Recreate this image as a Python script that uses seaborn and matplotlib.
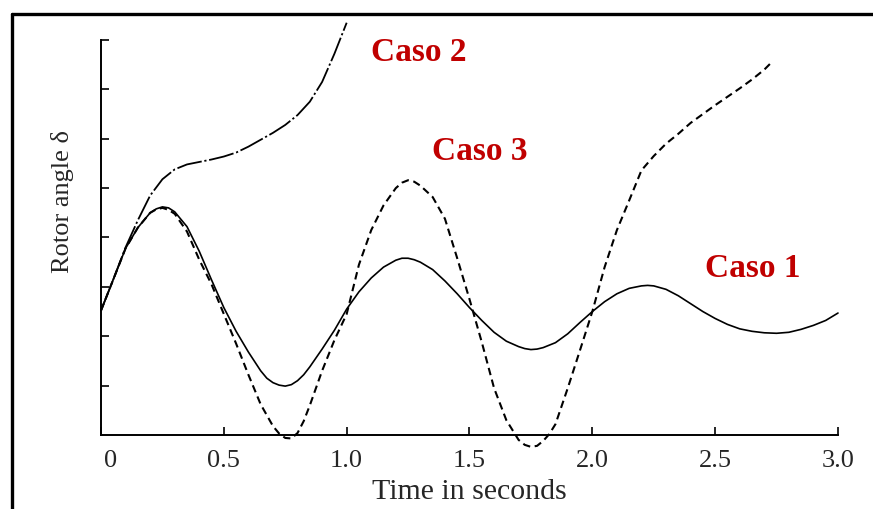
import matplotlib
matplotlib.use("Agg")
import matplotlib.pyplot as plt
import matplotlib.transforms as mtransforms
from matplotlib.lines import Line2D
import pandas as pd
import seaborn as sns

# time axis (s)
t1 = [0.00, 0.05, 0.10, 0.15, 0.20, 0.225, 0.25, 0.275, 0.30, 0.35, 0.40, 0.45, 0.50, 0.55, 0.60,
      0.65, 0.675, 0.70, 0.725, 0.75, 0.775, 0.80, 0.825, 0.85, 0.90, 0.95, 1.00, 1.05, 1.10, 1.15,
      1.20, 1.225, 1.25, 1.275, 1.30, 1.35, 1.40, 1.45, 1.50, 1.55, 1.60, 1.65, 1.70, 1.725, 1.75,
      1.775, 1.80, 1.85, 1.90, 1.95, 2.00, 2.05, 2.10, 2.15, 2.20, 2.225, 2.25, 2.30, 2.35, 2.40,
      2.45, 2.50, 2.55, 2.60, 2.65, 2.70, 2.75, 2.80, 2.85, 2.90, 2.95, 3.00]
caso1 = [2.52, 3.15, 3.78, 4.20, 4.50, 4.58, 4.62, 4.60, 4.52, 4.22, 3.72, 3.14, 2.58, 2.10, 1.68,
         1.30, 1.15, 1.06, 1.01, 0.99, 1.02, 1.10, 1.22, 1.38, 1.74, 2.12, 2.55, 2.90, 3.18, 3.40,
         3.54, 3.58, 3.58, 3.55, 3.50, 3.35, 3.12, 2.86, 2.58, 2.32, 2.08, 1.90, 1.79, 1.75, 1.73,
         1.74, 1.77, 1.87, 2.05, 2.28, 2.50, 2.70, 2.86, 2.97, 3.02, 3.03, 3.02, 2.95, 2.82, 2.66,
         2.50, 2.36, 2.24, 2.15, 2.10, 2.07, 2.06, 2.08, 2.14, 2.22, 2.32, 2.47]

t2 = [0.00, 0.05, 0.10, 0.15, 0.20, 0.25, 0.30, 0.35, 0.40, 0.45, 0.50, 0.55, 0.60, 0.65, 0.70,
      0.75, 0.80, 0.85, 0.90, 0.95, 1.00]
caso2 = [2.52, 3.15, 3.80, 4.35, 4.85, 5.18, 5.38, 5.48, 5.53, 5.58, 5.64, 5.72, 5.84, 5.98, 6.12,
         6.28, 6.48, 6.75, 7.15, 7.72, 8.35]

t3 = [0.00, 0.05, 0.10, 0.15, 0.20, 0.225, 0.25, 0.275, 0.30, 0.35, 0.40, 0.45, 0.50, 0.55, 0.60,
      0.65, 0.70, 0.725, 0.75, 0.775, 0.80, 0.825, 0.85, 0.875, 0.90, 0.95, 1.00, 1.05, 1.10, 1.15,
      1.20, 1.225, 1.25, 1.275, 1.30, 1.35, 1.40, 1.45, 1.50, 1.55, 1.60, 1.65, 1.70, 1.725, 1.75,
      1.775, 1.80, 1.825, 1.85, 1.90, 1.95, 2.00, 2.05, 2.10, 2.15, 2.20, 2.25, 2.30, 2.35, 2.40,
      2.45, 2.50, 2.55, 2.60, 2.65, 2.70, 2.73]
caso3 = [2.52, 3.15, 3.78, 4.20, 4.50, 4.57, 4.60, 4.56, 4.48, 4.12, 3.55, 3.05, 2.45, 1.85, 1.22,
         0.62, 0.18, 0.03, -0.06, -0.07, 0.04, 0.28, 0.60, 0.95, 1.30, 1.92, 2.45, 3.45, 4.15, 4.65,
         5.00, 5.11, 5.16, 5.13, 5.05, 4.82, 4.38, 3.58, 2.75, 1.88, 0.95, 0.30, -0.10, -0.20, -0.24,
         -0.22, -0.12, 0.02, 0.22, 0.95, 1.72, 2.50, 3.40, 4.15, 4.75, 5.36, 5.65, 5.90, 6.10, 6.32,
         6.50, 6.68, 6.85, 7.02, 7.20, 7.40, 7.55]

xticks = [0, 0.5, 1.0, 1.5, 2.0, 2.5, 3.0]
xtick_labels = ["0", "0.5", "1.0", "1.5", "2.0", "2.5", "3.0"]
yticks = [1, 2, 3, 4, 5, 6, 7, 8]

sns.set_style("ticks")
plt.rcParams['font.family'] = ['Liberation Serif', 'DejaVu Serif']

fig = plt.figure(figsize=(8.73, 5.09), dpi=100)
ax = fig.add_axes([0.1157, 0.1454, 0.8442, 0.776])

df1 = pd.DataFrame({"t": t1, "d": caso1})
df2 = pd.DataFrame({"t": t2, "d": caso2})
df3 = pd.DataFrame({"t": t3, "d": caso3})

sns.lineplot(data=df1, x="t", y="d", ax=ax, color="black", linewidth=1.2,
             sort=False, estimator=None, clip_on=False)
sns.lineplot(data=df2, x="t", y="d", ax=ax, color="black", linewidth=1.3,
             linestyle=(0, (14, 1.5, 1.2, 1.5)), sort=False, estimator=None, clip_on=False)
sns.lineplot(data=df3, x="t", y="d", ax=ax, color="black", linewidth=1.5,
             linestyle=(0, (3.6, 2.2)), sort=False, estimator=None, clip_on=False)

ax.set_xlim(0, 3.0)
ax.set_ylim(0, 8)
ax.set_xticks(xticks)
ax.set_xticklabels(xtick_labels)
ax.set_yticks(yticks)
ax.set_yticklabels([])
ax.tick_params(axis="both", direction="in", length=6, width=1.2, color="black")
ax.tick_params(axis="x", labelsize=19, pad=11)
sns.despine(ax=ax)
for s in ["left", "bottom"]:
    ax.spines[s].set_linewidth(1.4)
    ax.spines[s].set_color("black")

# the "0" label sits a little right of the axis in the original
first = ax.get_xticklabels()[0]
first.set_transform(first.get_transform() +
                    mtransforms.ScaledTranslation(0.10, 0, fig.dpi_scale_trans))

ax.set_xlabel("Time in seconds", fontsize=21.5, labelpad=5)
ax.set_ylabel("Rotor angle δ", fontsize=19)
ax.yaxis.set_label_coords(-0.036, 0.59)

red = "#c00000"
ax.text(1.294, 7.75, "Caso 2", color=red, fontsize=24, fontweight="bold",
        ha="center", va="center")
ax.text(1.543, 5.75, "Caso 3", color=red, fontsize=24, fontweight="bold",
        ha="center", va="center")
ax.text(2.654, 3.38, "Caso 1", color=red, fontsize=24, fontweight="bold",
        ha="center", va="center")

# outer frame of the picture (open on right and bottom)
fig.add_artist(Line2D([0.0137, 0.0137], [0.0, 0.9725], transform=fig.transFigure,
                      color="black", linewidth=2.4))
fig.add_artist(Line2D([0.0137, 1.0], [0.9725, 0.9725], transform=fig.transFigure,
                      color="black", linewidth=2.4))

fig.savefig("out.png", dpi=100)
